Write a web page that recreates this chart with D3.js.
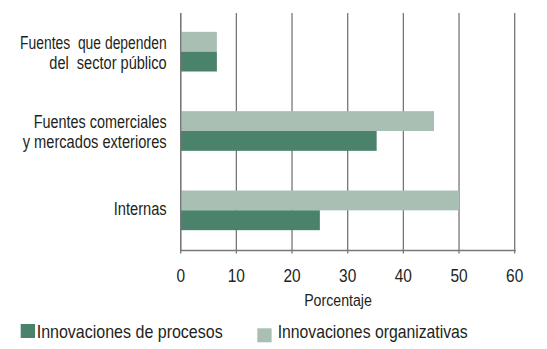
<!DOCTYPE html>
<html><head><meta charset="utf-8">
<script src="https://cdn.jsdelivr.net/npm/d3@7"></script>
<style>
body{margin:0;background:#fff;}
text{font-family:"Liberation Sans",Arial,sans-serif;fill:#231f20;}
</style></head><body>
<svg id="c" width="547" height="349"></svg>
<script>
const categories = ["Fuentes  que dependen\ndel  sector público", "Fuentes comerciales\ny mercados exteriores", "Internas"];
const seriesNames = ["Innovaciones organizativas", "Innovaciones de procesos"];
const organizativas = [6.5, 45.5, 50];
const procesos = [6.5, 35.2, 25];
const xTicks = [0, 10, 20, 30, 40, 50, 60];
const colors = {"Innovaciones organizativas": "#a9bfb3", "Innovaciones de procesos": "#4a826b"};

// measured widths of condensed text (reference font is a condensed sans)
const condensedWidth = {
  "Fuentes  que dependen": 146.7, "del  sector público": 117.4,
  "Fuentes comerciales": 133, "y mercados exteriores": 144, "Internas": 53,
  "Porcentaje": 67.7,
  "Innovaciones de procesos": 186, "Innovaciones organizativas": 190
};

const svg = d3.select("#c");
const x = d3.scaleLinear().domain([0, 60]).range([180.7, 514.7]);
const y = d3.scaleBand().domain(categories).range([12, 250]).paddingInner(0.5).paddingOuter(0.25);
const ys = d3.scaleBand().domain(seriesNames).range([0, y.bandwidth()]);
const axisY = 250.5;
const gridTop = 13;

function fit(sel, w) {
  if (w) sel.attr("textLength", w).attr("lengthAdjust", "spacingAndGlyphs");
  return sel;
}

// grid lines
svg.append("g").selectAll("line").data(xTicks).join("line")
  .attr("x1", d => x(d)).attr("x2", d => x(d))
  .attr("y1", gridTop).attr("y2", axisY + 3)
  .attr("stroke", "#777").attr("stroke-width", 1.3);

const data = categories.map((c, i) => ({c, vals: [organizativas[i], procesos[i]]}));
svg.append("g").selectAll("g").data(data).join("g")
  .attr("transform", d => `translate(0,${y(d.c)})`)
  .selectAll("rect").data(d => d.vals.map((v, j) => ({s: seriesNames[j], v})))
  .join("rect")
  .attr("x", x(0)).attr("y", d => ys(d.s))
  .attr("width", d => x(d.v) - x(0)).attr("height", ys.bandwidth())
  .attr("fill", d => colors[d.s]);

// axis lines
svg.append("line").attr("x1", x(0)).attr("x2", x(60) + 1).attr("y1", axisY).attr("y2", axisY)
  .attr("stroke", "#777").attr("stroke-width", 1.3);
svg.append("line").attr("x1", x(0)).attr("x2", x(0)).attr("y1", gridTop).attr("y2", axisY)
  .attr("stroke", "#777").attr("stroke-width", 1.3);

// tick labels
svg.append("g").selectAll("text").data(xTicks).join("text")
  .attr("x", d => x(d)).attr("y", 281.7)
  .attr("text-anchor", "middle").style("font-size", "18.5px").text(d => d)
  .each(function(d) { fit(d3.select(this), String(d).length * 8.6); });

fit(svg.append("text").attr("x", 338).attr("y", 306)
  .attr("text-anchor", "middle").style("font-size", "16px").text("Porcentaje"), condensedWidth["Porcentaje"]);

// category labels
svg.append("g").selectAll("text").data(categories).join("text")
  .attr("text-anchor", "end").style("font-size", "17.5px").attr("xml:space", "preserve")
  .each(function(d) {
    const lines = d.split("\n");
    const cy = y(d) + y.bandwidth() / 2;
    const t = d3.select(this);
    lines.forEach((l, k) => {
      const base = lines.length === 1 ? cy + 4.8 : cy - 2.8 + k * 19.8;
      fit(t.append("tspan").attr("x", 166.7).attr("y", base)
        .style("white-space", "pre").text(l), condensedWidth[l]);
    });
  });

// legend
const legend = [
  {s: "Innovaciones de procesos", x: 20.7, y: 324, tx: 36.7, ty: 337.7},
  {s: "Innovaciones organizativas", x: 257.3, y: 328.3, tx: 277.7, ty: 338.3}
];
const lg = svg.append("g").selectAll("g").data(legend).join("g");
lg.append("rect").attr("x", d => d.x).attr("y", d => d.y).attr("width", 14.3).attr("height", 14)
  .attr("fill", d => colors[d.s]);
lg.append("text").attr("x", d => d.tx).attr("y", d => d.ty)
  .style("font-size", "18.5px").text(d => d.s)
  .each(function(d) { fit(d3.select(this), condensedWidth[d.s]); });
</script></body></html>
